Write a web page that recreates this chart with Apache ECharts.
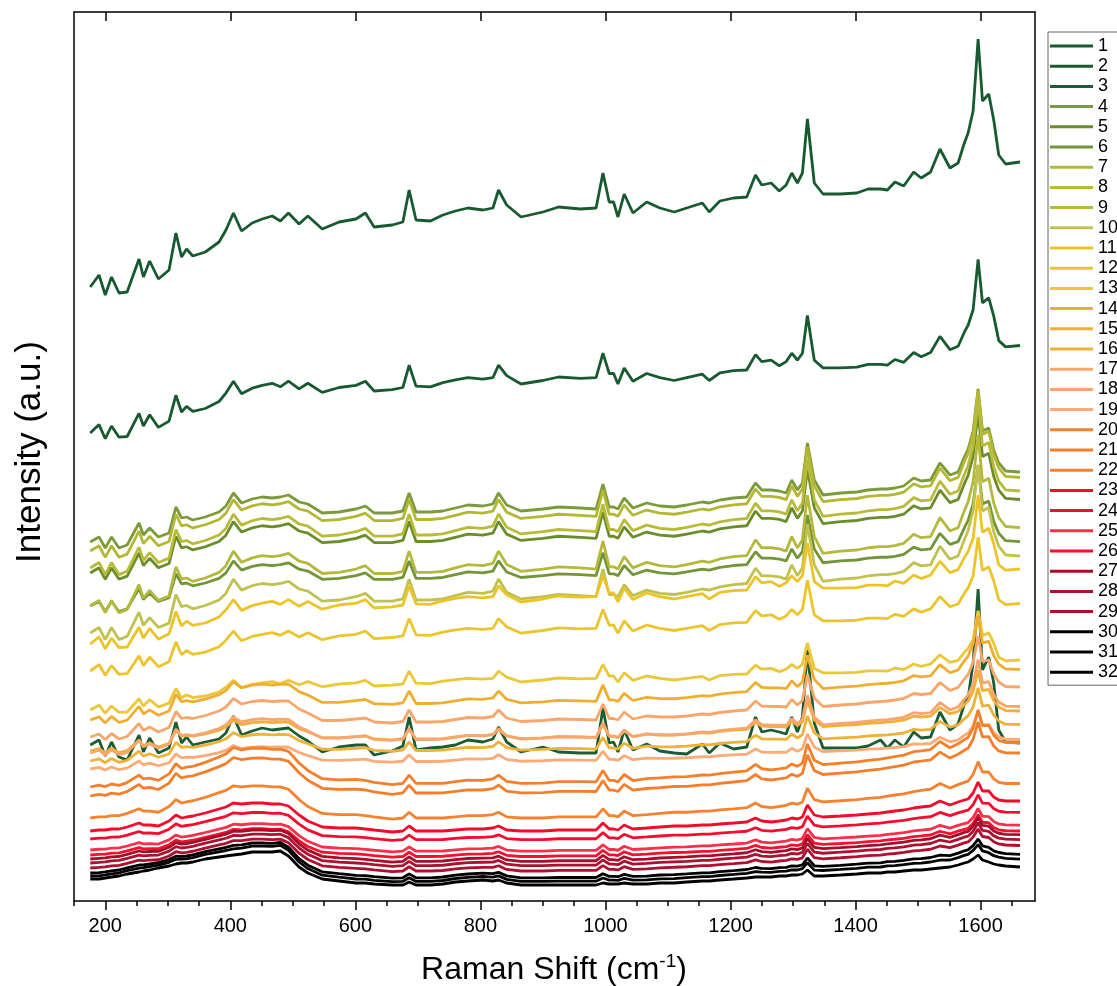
<!DOCTYPE html>
<html><head><meta charset="utf-8">
<script src="https://cdn.jsdelivr.net/npm/echarts@6/dist/echarts.min.js"></script>
<style>html,body{margin:0;padding:0;background:#fff}#c{width:1117px;height:986px}</style>
</head><body><div id="c"></div>
<script>
// Raman shift grid (cm-1)
const ramanShift = [
 176,190,200,210,222,235,254,261,271,285,
 302,313,322,330,340,360,382,393,405,418,
 435,451,467,480,493,510,524,547,574,601,
 616,630,659,676,686,697,720,740,760,780,
 804,820,829,842,865,900,925,960,985,996,
 1006,1013,1020,1030,1044,1066,1087,1110,1130,1155,
 1166,1183,1205,1226,1240,1250,1265,1278,1289,1298,
 1307,1315,1323,1334,1348,1376,1402,1420,1440,1451,
 1463,1477,1493,1505,1520,1535,1551,1564,1574,1580,
 1588,1596,1603,1613,1621,1629,1640,1663];

// Spectra (intensity in plot units)
const tplDarkGreen = [ // spectrum 1
 614,626,606,624,608,609,642,624,640,622,
 631,668,644,652,645,649,659,671,688,670,
 678,682,685,680,688,677,685,672,679,682,
 688,674,676,679,711,681,680,686,690,693,
 691,693,711,696,684,689,694,692,693,728,
 699,699,684,707,688,699,693,689,693,698,
 689,700,703,704,726,716,718,710,716,728,
 718,728,782,718,707,707,708,712,712,711,
 719,715,729,723,729,752,733,738,758,768,
 790,862,800,807,781,746,737,739];
const tplOlive = [ // spectrum 4
 359,364,353,364,353,356,378,366,373,364,
 368,394,383,384,381,384,389,395,408,398,
 402,404,403,404,406,399,397,388,389,392,
 395,388,388,390,408,389,389,390,393,396,
 395,397,408,396,390,392,394,393,392,417,
 394,394,392,403,393,398,395,394,396,399,
 398,401,403,404,418,411,411,410,408,421,
 411,418,458,421,406,408,409,411,412,412,
 413,415,423,420,421,438,426,429,444,452,
 470,512,470,473,451,438,430,429];
const tplGreenMid = [ // spectrum 3
 156,161,145,159,144,141,166,149,163,148,
 153,179,158,164,156,159,162,168,185,166,
 170,173,171,172,173,165,160,149,154,156,
 156,146,150,155,184,151,153,154,156,161,
 159,162,174,159,149,154,149,148,148,193,
 158,159,149,171,151,157,150,148,147,157,
 148,158,152,154,184,169,171,169,167,184,
 169,184,251,178,153,153,153,155,161,153,
 161,154,169,163,164,189,171,177,197,203,
 238,312,231,244,218,171,159,158];
const tplRed = [ // spectrum 23
 70,71,71,72,72,74,78,76,76,75,
 80,86,83,84,85,88,92,94,98,97,
 98,98,97,97,95,86,80,74,73,73,
 72,71,69,70,75,70,70,70,71,72,
 72,73,75,71,70,70,71,71,71,78,
 72,72,71,76,72,73,74,75,75,76,
 76,77,78,79,83,80,79,80,81,83,
 82,84,96,86,84,85,86,87,88,89,
 90,91,93,94,95,100,96,99,101,102,
 108,119,110,110,104,101,100,100];
const tplBlack = [ // spectrum 32
 22,22,23,24,25,27,29,30,31,33,
 35,37,38,38,39,42,44,45,46,47,
 49,49,49,50,45,34,28,22,20,18,
 18,17,16,16,19,16,16,17,19,20,
 21,20,21,18,16,16,16,16,16,18,
 17,17,17,18,17,17,18,18,19,20,
 20,21,22,23,24,24,24,25,25,26,
 26,27,31,25,25,26,27,28,28,29,
 29,30,31,31,32,33,34,36,38,39,
 42,46,41,39,37,36,35,34];

const seriesNames = ['1','2','3','4','5','6','7','8','9','10','11','12','13','14','15','16',
 '17','18','19','20','21','22','23','24','25','26','27','28','29','30','31','32'];
// height of each spectrum at its first point
const startHeights = [614,468,156,359,328,295,350,333,295,268,257,230,191,181,150,140,
 164,148,132,114,105,83,70,62,51,46,42,38,33,28,25,22];
// share of each read profile in each spectrum
const wDarkGreen = [1,0.7,0,0,0,0,0,0,0,0,0.6,0.54,0.4,0,0,0, 0,0,0,0,0,0,0,0,0,0,0,0,0,0,0,0];
const wOlive     = [0,0,0,1,1.05,0.92,1.05,1.1,1.12,1.1,0,0,0,0.55,0.4,0.35, 0.5,0.45,0.25,0.12,0.1,0,0,0,0,0,0,0,0,0,0,0];
const wGreenMid  = [0,0,1,0,0,0,0,0,0,0,0,0,0,0,0,0, 0,0,0,0,0,0,0,0,0,0,0,0,0,0,0,0];
const wRed       = [0,0,0,0,0,0,0,0,0,0,0,0,0,0.4,0.4,0.4, 0.5,0.5,0.4,1.2,1.2,1.15,1,0.85,0.75,0.7,0.65,0.6,0.55,0.3,0.2,0];
const wBlack     = [0,0,0,0,0,0,0,0,0,0,0,0,0,0,0,0, 0,0,0,0,0,0,0,0.1,0.2,0.25,0.4,0.45,0.5,0.8,0.9,1];

const colors = ['#185a30','#185a30','#1b5d33','#7b9b3b','#6b8c2b','#739537','#b3b834','#b8bb38','#b4b93c','#bfc24f',
 '#ecc42a','#ecc52e','#ebc73a','#f0ae30','#f0b035','#efb238','#f9a66c','#f9a56e','#fbab78','#f57f2a','#f47e2a','#f5822e',
 '#f50a2a','#f80c2e','#f9304c','#f5102e','#a50e2a','#ab1230','#b0102e','#000000','#050505','#000000'];

const majorTicks = [200,400,600,800,1000,1200,1400,1600];
const minorTicks = [150,250,300,350,450,500,550,650,700,750,850,900,950,1050,1100,1150,1250,1300,1350,1450,1500,1550,1650];

const templates = [tplDarkGreen, tplOlive, tplGreenMid, tplRed, tplBlack];
const weights = [wDarkGreen, wOlive, wGreenMid, wRed, wBlack];

const series = seriesNames.map((name, i) => ({
  name, type: 'line', xAxisIndex: 0, yAxisIndex: 0,
  showSymbol: false, symbol: 'none', silent: true,
  lineStyle: { width: 2.8, color: colors[i] },
  itemStyle: { color: colors[i] },
  data: ramanShift.map((x, j) => {
    let v = startHeights[i];
    templates.forEach((t, k) => { v += weights[k][i] * (t[j] - t[0]); });
    return [x, v];
  })
}));

const FONT = 'Liberation Sans';
const axLine = { show: true, onZero: false, lineStyle: { color: '#000', width: 1.5 } };
const baseX = { type: 'value', min: 150, max: 1687, splitLine: { show: false } };

const chart = echarts.init(document.getElementById('c'), null, { renderer: 'canvas' });
chart.setOption({
  animation: false,
  backgroundColor: '#fff',
  grid: { left: 74, right: 82, top: 12, bottom: 85 },
  xAxis: [
    Object.assign({}, baseX, { position: 'bottom', axisLine: axLine,
      axisTick: { show: true, inside: false, length: 9, customValues: majorTicks, lineStyle: { color: '#000', width: 1.5 } },
      axisLabel: { show: true, customValues: majorTicks, fontSize: 20, color: '#000', fontFamily: FONT, margin: 15,
        formatter: v => String(v) } }),
    Object.assign({}, baseX, { position: 'bottom', axisLine: { show: false },
      axisTick: { show: true, inside: false, length: 5, customValues: minorTicks, lineStyle: { color: '#000', width: 1.5 } },
      axisLabel: { show: false } }),
    Object.assign({}, baseX, { position: 'top', axisLine: axLine,
      axisTick: { show: true, inside: true, length: 9, customValues: majorTicks, lineStyle: { color: '#000', width: 1.5 } },
      axisLabel: { show: false } }),
    Object.assign({}, baseX, { position: 'top', axisLine: { show: false },
      axisTick: { show: true, inside: true, length: 5, customValues: minorTicks, lineStyle: { color: '#000', width: 1.5 } },
      axisLabel: { show: false } })
  ],
  yAxis: [
    { type: 'value', min: 0, max: 889, position: 'left', axisLine: axLine, axisTick: { show: false }, axisLabel: { show: false }, splitLine: { show: false } },
    { type: 'value', min: 0, max: 889, position: 'right', axisLine: axLine, axisTick: { show: false }, axisLabel: { show: false }, splitLine: { show: false } }
  ],
  legend: {
    orient: 'vertical', left: 1048, top: 32, icon: 'rect', itemWidth: 43, itemHeight: 3, itemGap: 2.2,
    padding: [5, 5, 4, 2], backgroundColor: '#fff', borderColor: '#666', borderWidth: 1,
    textStyle: { fontSize: 18, color: '#000', fontFamily: FONT, lineHeight: 18 },
    data: seriesNames, selectedMode: false
  },
  graphic: [
    { type: 'text', x: 554, y: 970, silent: true,
      style: { text: '{a|Raman Shift (cm}{s|-1}{a|)}', align: 'center', verticalAlign: 'middle',
        rich: { a: { fontSize: 32, fontFamily: FONT, fill: '#000', lineHeight: 36 },
                s: { fontSize: 19, fontFamily: FONT, fill: '#000', verticalAlign: 'top', lineHeight: 36 } } } },
    { type: 'text', x: 30, y: 452, rotation: Math.PI / 2, silent: true,
      style: { text: 'Intensity (a.u.)', fontSize: 35, fontFamily: FONT, fill: '#000', align: 'center', verticalAlign: 'middle' } }
  ],
  series
});
</script>
</body></html>
